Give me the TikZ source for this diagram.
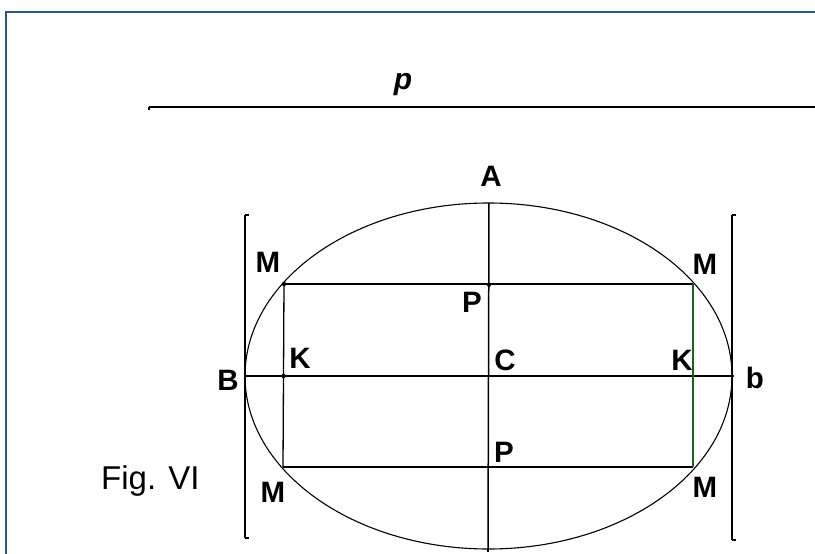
\documentclass[tikz,border=0pt]{standalone}
\usepackage{fontspec}
\setmainfont{Liberation Sans}
\definecolor{framebl}{RGB}{46,84,148}
\definecolor{chordgr}{RGB}{24,100,24}
\begin{document}
\begin{tikzpicture}[x=1pt,y=-1pt,
  lbl/.style={inner sep=0pt,anchor=base,font=\fontsize{29.5}{33}\selectfont\bfseries},
  axis/.style={line width=1.5pt,black},
  thin line/.style={line width=1.3pt,black},
  pt/.style={circle,fill=black,inner sep=0pt,minimum size=4.5pt}]
\useasboundingbox (0,0) rectangle (815,554);
% frame (only top and left edges visible)
\draw[framebl,line width=2.2pt] (6,554) -- (6,12) -- (815,12);
% line p
\coordinate (pL) at (149,107);
\coordinate (pR) at (815,107);
\draw[line width=2pt] (pL) -- (pR);
\draw[line width=1.5pt] (pL) -- ++(0,3);
\node[lbl,font=\fontsize{30}{33}\selectfont\bfseries\itshape] (p) at (403,89) {p};
% key points
\coordinate (C) at (488.5,376);
\coordinate (Atop) at (489,203);
\coordinate (Abot) at (488,549);
\coordinate (Bpt) at (245,376);
\coordinate (bpt) at (734,376);
\coordinate (M1) at (284,284);
\coordinate (M2) at (693,284);
\coordinate (M3) at (283,467);
\coordinate (M4) at (693,467);
\coordinate (K1) at (283.5,376);
\coordinate (P1) at (489,285);
% ellipse
\draw[line width=1.1pt] (C) ellipse [x radius=243.5, y radius=173];
% side bars
\coordinate (L1) at (245,215);
\coordinate (L2) at (245,538);
\coordinate (R1) at (732,215);
\coordinate (R2) at (732,540);
\draw[axis] (L1) -- (L2);
\draw[axis] (R1) -- (R2);
\draw[line width=1.2pt] (L1) -- ++(4,0);
\draw[line width=1.2pt] (L2) -- ++(4,0);
\draw[line width=1.2pt] (R1) -- ++(4,0);
\draw[line width=1.2pt] (R2) -- ++(4,0);
% axes
\draw[axis] (Atop) -- (Abot);
\draw[line width=1.2pt] (Abot) -- ++(0,3);
\draw[axis] (Bpt) -- (bpt);
% rectangle
\draw[thin line] (M1) -- (M2);
\draw[thin line] (M3) -- (M4);
\draw[thin line] (M1) -- (M3);
\draw[chordgr,line width=1.5pt] (M2) -- (M4);
% dots
\node[pt] (d1) at (M1) {};
\node[pt] (d2) at (K1) {};
\node[pt,minimum size=4pt] (d3) at (P1) {};
% labels
\node[lbl] (lA) at (491,186) {A};
\node[lbl] (lM1) at (268,272) {M};
\node[lbl] (lM2) at (705,274) {M};
\node[lbl] (lP1) at (472,312) {P};
\node[lbl] (lK1) at (300,368) {K};
\node[lbl] (lC) at (505,370) {C};
\node[lbl] (lK2) at (682,370) {K};
\node[lbl] (lB) at (228,390) {B};
\node[lbl] (lb) at (755,388) {b};
\node[lbl] (lP2) at (504,462) {P};
\node[lbl] (lM3) at (273,502) {M};
\node[lbl] (lM4) at (705,497) {M};
\node[inner sep=0pt,anchor=base west,font=\fontsize{33}{36}\selectfont] (fig) at (101,489) {Fig. VI};
\end{tikzpicture}
\end{document}
